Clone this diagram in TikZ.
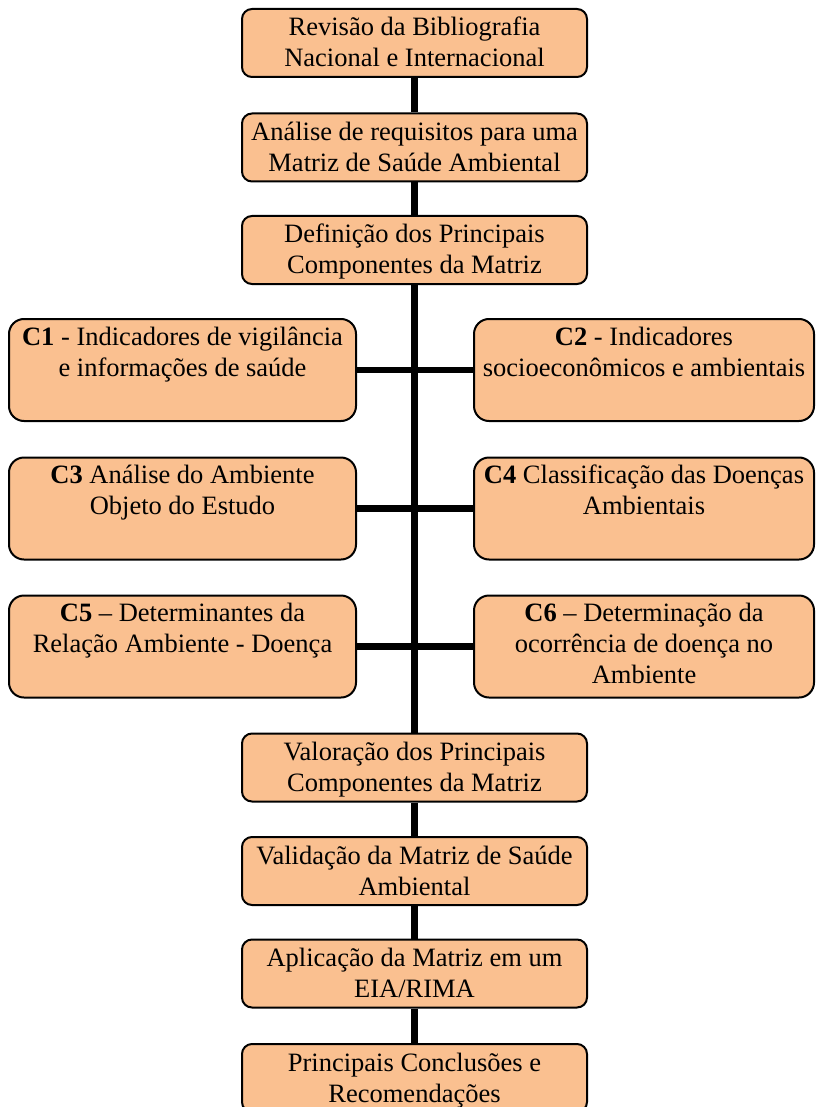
\documentclass[tikz,border=0pt]{standalone}
\usepackage{fontspec}
\setmainfont{Liberation Serif}
\definecolor{peach}{RGB}{250,192,144}
\newcommand\lbltext[2]{\parbox[t]{#1}{\centering #2}}
\begin{document}
\begin{tikzpicture}[x=1pt,y=1pt,
 box/.style={draw=black, line width=2pt, fill=peach, rounded corners=10pt, inner sep=0pt},
 mainbox/.style={box, minimum width=345pt, minimum height=68pt},
 sidebox/.style={box, rounded corners=15pt, minimum height=102pt},
 leftbox/.style={sidebox, minimum width=347pt},
 rightbox/.style={sidebox, minimum width=340pt},
 lbl/.style={inner sep=0pt, anchor=base, font=\fontsize{26.5}{31}\selectfont},
 trunk/.style={line width=6.5pt, black}]
\useasboundingbox (0,0) rectangle (816,-1107);
\clip (0,0) rectangle (816,-1107);
% main column boxes
\node[mainbox] (b1) at (414.5,-43) {};
\node[mainbox] (b2) at (414.5,-147.5) {};
\node[mainbox] (b3) at (414.5,-250) {};
\node[mainbox] (b4) at (414.5,-767.5) {};
\node[mainbox] (b5) at (414.5,-871) {};
\node[mainbox] (b6) at (414.5,-973.5) {};
\node[mainbox] (b7) at (414.5,-1078) {};
% side boxes
\node[leftbox] (c1) at (182.5,-370) {};
\node[rightbox] (c2) at (644,-370) {};
\node[leftbox] (c3) at (182.5,-508.5) {};
\node[rightbox] (c4) at (644,-508.5) {};
\node[leftbox] (c5) at (182.5,-646.5) {};
\node[rightbox] (c6) at (644,-646.5) {};
% connectors
\draw[trunk] (b1.south) -- (b2.north);
\draw[trunk] (b2.south) -- (b3.north);
\draw[trunk] (b3.south) -- (b4.north);
\draw[trunk] (b4.south) -- (b5.north);
\draw[trunk] (b5.south) -- (b6.north);
\draw[trunk] (b6.south) -- (b7.north);
\draw[trunk] (c1.east) -- (c2.west);
\draw[trunk] (c3.east) -- (c4.west);
\draw[trunk] (c5.east) -- (c6.west);
% texts
\node[lbl] (t1) at ([yshift=-28pt]b1.north) {\lbltext{340pt}{Revisão da Bibliografia\\Nacional e Internacional}};
\node[lbl] (t2) at ([yshift=-28pt]b2.north) {\lbltext{340pt}{Análise de requisitos para uma\\Matriz de Saúde Ambiental}};
\node[lbl] (t3) at ([yshift=-28pt]b3.north) {\lbltext{340pt}{Definição dos Principais\\Componentes da Matriz}};
\node[lbl] (t4) at ([yshift=-28pt]b4.north) {\lbltext{340pt}{Valoração dos Principais\\Componentes da Matriz}};
\node[lbl] (t5) at ([yshift=-28pt]b5.north) {\lbltext{340pt}{Validação da Matriz de Saúde\\Ambiental}};
\node[lbl] (t6) at ([yshift=-28pt]b6.north) {\lbltext{340pt}{Aplicação da Matriz em um\\EIA/RIMA}};
\node[lbl] (t7) at ([yshift=-28pt]b7.north) {\lbltext{340pt}{Principais Conclusões e\\Recomendações}};
\node[lbl] (tc1) at ([yshift=-27pt]c1.north) {\lbltext{340pt}{\textbf{C1} - Indicadores de vigilância\\e informações de saúde}};
\node[lbl] (tc2) at ([yshift=-27pt]c2.north) {\lbltext{335pt}{\textbf{C2} - Indicadores\\socioeconômicos e ambientais}};
\node[lbl] (tc3) at ([yshift=-27pt]c3.north) {\lbltext{340pt}{\textbf{C3} Análise do Ambiente\\Objeto do Estudo}};
\node[lbl] (tc4) at ([yshift=-27pt]c4.north) {\lbltext{335pt}{\textbf{C4} Classificação das Doenças\\Ambientais}};
\node[lbl] (tc5) at ([yshift=-27pt]c5.north) {\lbltext{340pt}{\textbf{C5} – Determinantes da\\Relação Ambiente - Doença}};
\node[lbl] (tc6) at ([yshift=-27pt]c6.north) {\lbltext{335pt}{\textbf{C6} – Determinação da\\ocorrência de doença no\\Ambiente}};
\end{tikzpicture}
\end{document}
